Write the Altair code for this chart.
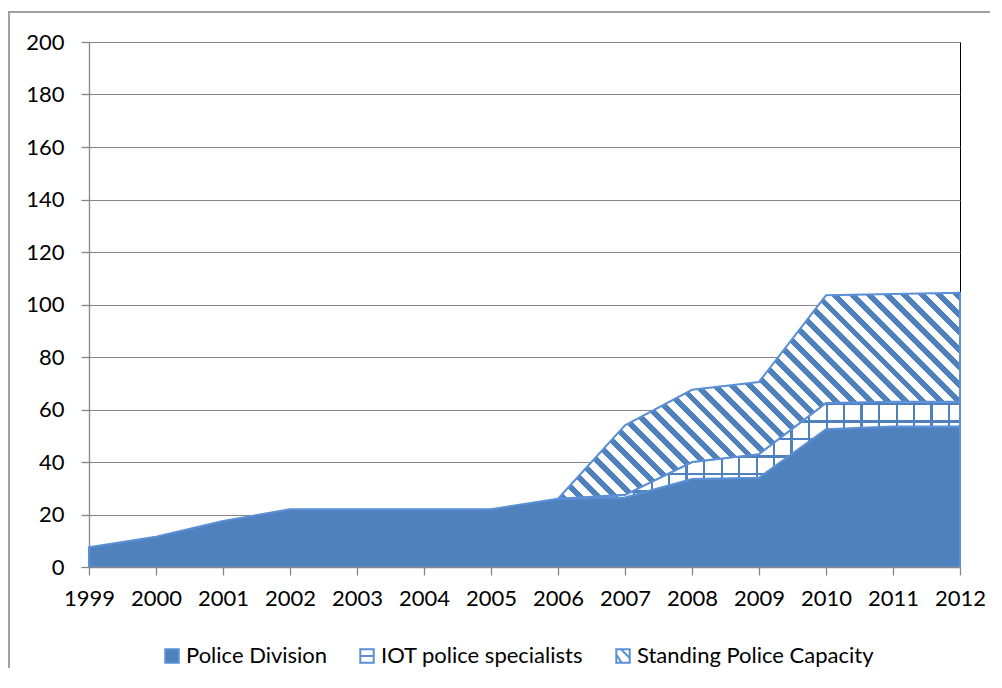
import math
import altair as alt
import pandas as pd

# ---------------- data ----------------
years = list(range(1999, 2013))
police = [7.5, 11.5, 17.5, 22, 22, 22, 22, 26, 26.5, 33.5, 34, 52.5, 53.5, 53.5]
iot = [None] * 7 + [0, 1, 6.5, 9, 10, 9.5, 9.5]
spc = [None] * 7 + [0, 26.5, 27.5, 27.5, 41, 41, 41.5]
series = ["Police Division", "IOT police specialists", "Standing Police Capacity"]
y_ticks = list(range(0, 201, 20))

# ---------------- layout / style ----------------
W, H = 871, 525
YMAX = 200
FONT = "Lato"
FS = 22
FILL = "#4F81BD"
LINE = "#5B8FD6"
PAT = "#4F81BD"

rows = []
for i, yr in enumerate(years):
    p = police[i]
    rows.append(dict(year=yr, series=series[0], base=0, top=p))
    if iot[i] is not None:
        rows.append(dict(year=yr, series=series[1], base=p, top=p + iot[i]))
        rows.append(dict(year=yr, series=series[2], base=p + iot[i], top=p + iot[i] + spc[i]))
df = pd.DataFrame(rows)

px_x = W / (years[-1] - years[0])
px_y = H / YMAX


def bbox(name):
    d = df[df.series == name]
    w = (d.year.max() - d.year.min()) * px_x
    h = (d.top.max() - d.base.min()) * px_y
    return w, h


def stripe_stops(span, period, line, color, bg, start=0.0):
    stops = [dict(offset=0, color=bg)]
    a = start
    while a < span:
        b = min(a + line, span)
        if a >= 0:
            o1, o2 = a / span, b / span
            stops += [dict(offset=o1, color=bg), dict(offset=o1, color=color),
                      dict(offset=o2, color=color), dict(offset=o2, color=bg)]
        a += period
    stops.append(dict(offset=1, color=bg))
    return stops


# diagonal hatch for Standing Police Capacity
sw, sh = bbox(series[2])
r = sh / sw
k = (1 + r) / (1 + r * r)
diag_span = (sw + sh) / math.sqrt(2)
spc_fill = dict(gradient="linear", x1=0, y1=1, x2=k, y2=1 - k * r,
                stops=stripe_stops(diag_span, 12.4, 5.6, PAT, "#FFFFFF", 2))

# grid pattern for IOT police specialists
iw, ih = bbox(series[1])
iot_vfill = dict(gradient="linear", x1=0, y1=0, x2=1, y2=0,
                 stops=stripe_stops(iw, 17.5, 2.4, PAT, "#FFFFFF", 5))
iot_hfill = dict(gradient="linear", x1=0, y1=0, x2=0, y2=1,
                 stops=stripe_stops(ih, 17.5, 2.4, PAT, "rgba(255,255,255,0)", 1))

x_enc = alt.X("year:Q", title=None,
              scale=alt.Scale(domain=[years[0], years[-1]], nice=False, zero=False),
              axis=alt.Axis(values=years, format="d", grid=False, tickSize=8,
                            labelPadding=13, zindex=1, labelFlush=False))
y_enc = alt.Y("top:Q", title=None,
              scale=alt.Scale(domain=[0, YMAX], nice=False),
              axis=alt.Axis(values=y_ticks, grid=True, tickSize=8, labelPadding=17))
y2_enc = alt.Y2("base:Q")

base = alt.Chart(df)

police_area = base.transform_filter(alt.datum.series == series[0]).mark_area(
    fill=FILL, stroke=LINE, strokeWidth=2
).encode(x=x_enc, y=y_enc, y2=y2_enc)

iot_v = base.transform_filter(alt.datum.series == series[1]).mark_area(
    fill=iot_vfill, strokeWidth=0
).encode(x=x_enc, y=y_enc, y2=y2_enc)

iot_h = base.transform_filter(alt.datum.series == series[1]).mark_area(
    fill=iot_hfill, stroke=LINE, strokeWidth=2
).encode(x=x_enc, y=y_enc, y2=y2_enc)

spc_area = base.transform_filter(alt.datum.series == series[2]).mark_area(
    fill=spc_fill, stroke=LINE, strokeWidth=2
).encode(x=x_enc, y=y_enc, y2=y2_enc)

# legend (custom symbols)
sq = "M-1,-1H1V1H-1Z"
iot_sym = "M-1,-1H1V1H-1Z M-1,0H1"
spc_sym = "M-1,-1H1V1H-1Z M-1,-0.2L-0.2,1 M-0.3,-1L1,0.3"
leg = alt.Legend(title=None, orient="none", legendX=72, legendY=603,
                 direction="horizontal", labelFont=FONT, labelFontSize=FS,
                 labelColor="black", symbolSize=180,
                 symbolStrokeWidth=2, symbolOpacity=1, labelOffset=3,
                 columnPadding=28, padding=0, labelLimit=400)
legend_layer = base.transform_filter("false").mark_point(
    filled=True, strokeWidth=2, opacity=1
).encode(
    x=x_enc, y=y_enc,
    fill=alt.Fill("series:N", scale=alt.Scale(domain=series, range=[FILL, "#FFFFFF", "#FFFFFF"]), legend=leg),
    stroke=alt.Stroke("series:N", scale=alt.Scale(domain=series, range=[LINE, LINE, LINE]), legend=leg),
    shape=alt.Shape("series:N", scale=alt.Scale(domain=series, range=[sq, iot_sym, spc_sym]), legend=leg),
)

# outer chart frame
frame = alt.Chart(alt.Data(values=[{"a": 1}])).mark_rect(
    filled=False, stroke="#A0A0A0", strokeWidth=2
).encode(x=alt.value(-80), x2=alt.value(1100), y=alt.value(-30), y2=alt.value(900))

chart = alt.layer(frame, police_area, iot_v, iot_h, spc_area, legend_layer).properties(
    width=W, height=H, autosize="none",
    padding={"left": 81, "top": 34, "right": 30, "bottom": 101},
).configure_view(stroke="black", strokeWidth=1).configure_axis(
    labelFont=FONT, labelFontSize=FS, labelColor="black",
    domainColor="#868686", tickColor="#868686", gridColor="#868686",
    domainWidth=1.3, tickWidth=1.3, gridWidth=1,
)

chart.save("out.html", embed_options={"renderer": "svg", "actions": False})
